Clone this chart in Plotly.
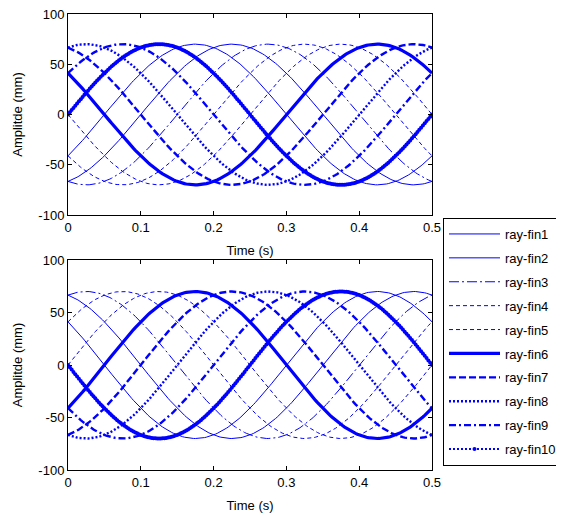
import numpy as np
import plotly.graph_objects as go
from plotly.subplots import make_subplots

# ---- data ----
ray_names = ["ray-fin1", "ray-fin2", "ray-fin3", "ray-fin4", "ray-fin5",
             "ray-fin6", "ray-fin7", "ray-fin8", "ray-fin9", "ray-fin10"]
amplitude_mm = 70.0          # peak amplitude of every ray
frequency_hz = 2.0           # one full cycle every 0.5 s
phase_lag_deg = [36, 72, 108, 144, 180, 216, 252, 288, 324, 360]   # lag of each ray
bottom_offset_deg = 180      # lower panel: rays in anti-phase
time_s = np.round(np.arange(0, 0.5 + 1e-9, 0.0025), 4)
x_ticks = [0, 0.1, 0.2, 0.3, 0.4, 0.5]
x_tick_labels = ["0", "0.1", "0.2", "0.3", "0.4", "0.5"]
y_ticks = [-100, -50, 0, 50, 100]
y_tick_labels = ["-100", "-50", "0", "50", "100"]

# ---- styles ----
BLUE = "#0000ff"
styles = [
    dict(width=1, dash="solid"),
    dict(width=1, dash="solid"),
    dict(width=1, dash="10px,3px,2px,3px"),
    dict(width=1, dash="4px,3px"),
    dict(width=1, dash="4px,3px"),
    dict(width=3.2, dash="solid"),
    dict(width=2.4, dash="7px,3px"),
    dict(width=2.4, dash="2px,2px"),
    dict(width=2.4, dash="7px,3px,2px,3px"),
    dict(width=2.0, dash="2px,2px"),
]

fig = make_subplots(rows=2, cols=1, vertical_spacing=0.0)

for panel, offset in ((1, 0), (2, bottom_offset_deg)):
    for i, name in enumerate(ray_names):
        phase = np.deg2rad(offset - phase_lag_deg[i])
        y = amplitude_mm * np.sin(2 * np.pi * frequency_hz * time_s + phase)
        st = styles[i]
        mode = "lines+markers" if i == 9 else "lines"
        fig.add_trace(go.Scatter(
            x=time_s, y=y, mode=mode, name=name,
            legendgroup=name, showlegend=(panel == 1),
            line=dict(color=BLUE, width=st["width"], dash=st["dash"]),
            marker=dict(color=BLUE, size=4) if i == 9 else None,
        ), row=panel, col=1)

axis_common = dict(showline=True, linecolor="black", linewidth=1, mirror="ticks",
                   ticks="inside", ticklen=4, tickcolor="black", showgrid=False,
                   zeroline=False, tickfont=dict(size=13, color="black"),
                   ticklabeloverflow="allow")

for r in (1, 2):
    fig.update_xaxes(range=[0, 0.5], tickvals=x_ticks, ticktext=x_tick_labels,
                     title=dict(text="Time (s)", font=dict(size=13, color="black"), standoff=12),
                     row=r, col=1, **axis_common)
    fig.update_yaxes(range=[-100, 100], tickvals=y_ticks, ticktext=y_tick_labels,
                     title=dict(text="Amplitde (mm)", font=dict(size=13, color="black"), standoff=12),
                     row=r, col=1, **axis_common)

# page has an 8px body margin, so the figure is placed at (8, 8)
OFF = 8
H, W = 518 - OFF, 564 - OFF
ml, mr, mt, mb = 68 - OFF, 564 - 432, 14 - OFF, 518 - 470
ph = H - mt - mb
pw = W - ml - mr
fig.update_layout(yaxis=dict(domain=[(470 - 215) / ph, 1.0]),
                  yaxis2=dict(domain=[0.0, (470 - 260) / ph]))

fig.update_layout(
    width=W, height=H,
    margin=dict(l=ml, r=mr, t=mt, b=mb, autoexpand=False),
    paper_bgcolor="white", plot_bgcolor="white",
    font=dict(family="Liberation Sans, Arial, sans-serif", size=13, color="black"),
    showlegend=True,
    legend=dict(x=(443 - 68) / pw, y=(470 - 218) / ph,
                xanchor="left", yanchor="top",
                bgcolor="white", bordercolor="black", borderwidth=1,
                font=dict(size=13, color="black"), tracegroupgap=4,
                itemwidth=51),
)

fig.write_html("out.html")
